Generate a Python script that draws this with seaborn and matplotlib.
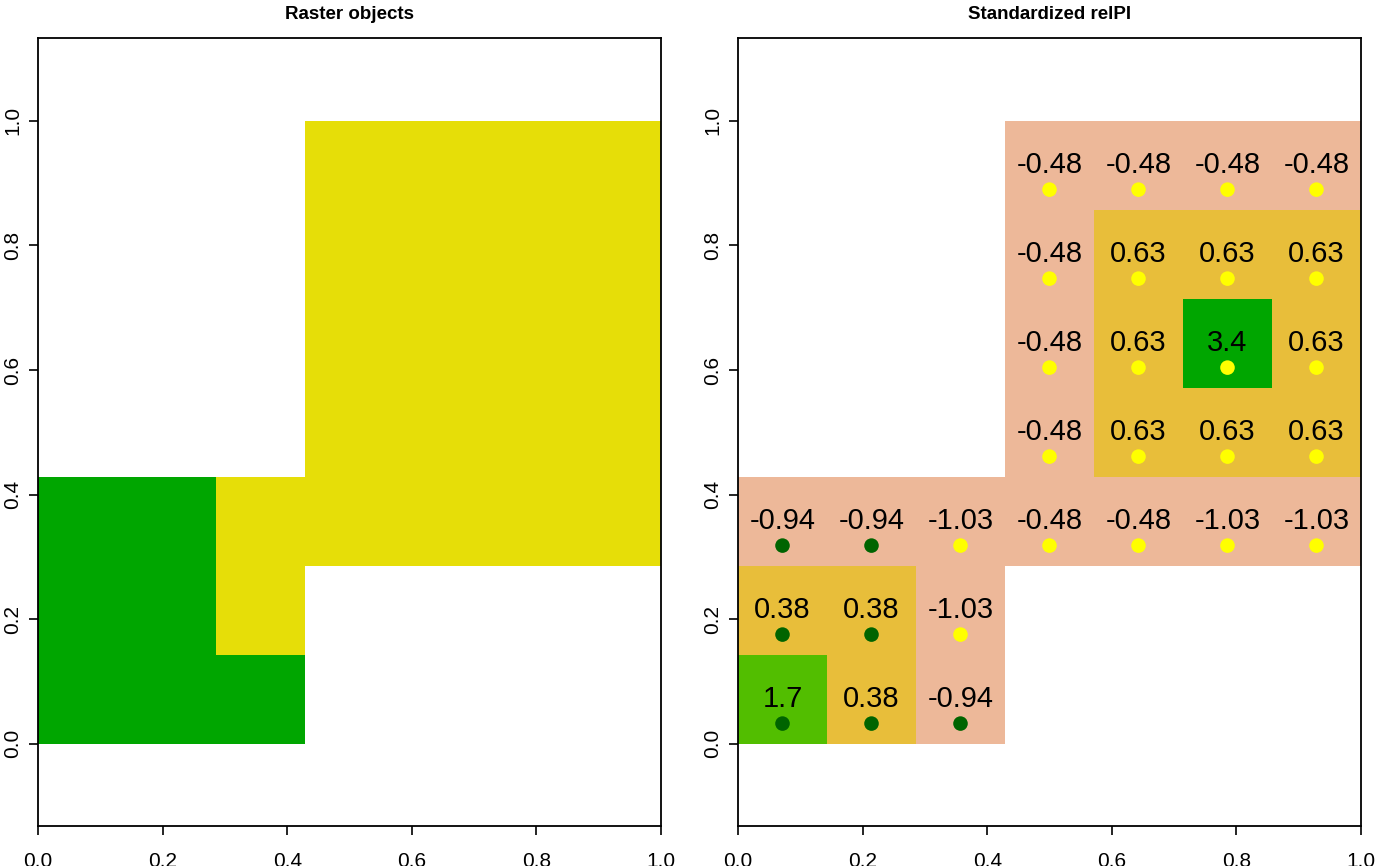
import numpy as np
import pandas as pd
import seaborn as sns
import matplotlib.pyplot as plt
from matplotlib.colors import ListedColormap, BoundaryNorm

nan = np.nan

# raster classes on a 7 x 7 grid, top row first (1 = green, 2 = yellow)
classes = [
    [nan, nan, nan, 2, 2, 2, 2],
    [nan, nan, nan, 2, 2, 2, 2],
    [nan, nan, nan, 2, 2, 2, 2],
    [nan, nan, nan, 2, 2, 2, 2],
    [1, 1, 2, 2, 2, 2, 2],
    [1, 1, 2, nan, nan, nan, nan],
    [1, 1, 1, nan, nan, nan, nan],
]

# standardized relPI per cell, same grid
relpi = [
    [nan, nan, nan, -0.48, -0.48, -0.48, -0.48],
    [nan, nan, nan, -0.48, 0.63, 0.63, 0.63],
    [nan, nan, nan, -0.48, 0.63, 3.4, 0.63],
    [nan, nan, nan, -0.48, 0.63, 0.63, 0.63],
    [-0.94, -0.94, -1.03, -0.48, -0.48, -1.03, -1.03],
    [0.38, 0.38, -1.03, nan, nan, nan, nan],
    [1.7, 0.38, -0.94, nan, nan, nan, nan],
]

class_colors = ["#00A600", "#E6DE08"]
relpi_breaks = [-2, 0, 1, 2, 5]
relpi_colors = ["#EDB899", "#E8BE3A", "#52BE00", "#00A600"]
dot_colors = {1: "#006400", 2: "#FFFF00"}
ticks = [0.0, 0.2, 0.4, 0.6, 0.8, 1.0]
tick_labels = ["0.0", "0.2", "0.4", "0.6", "0.8", "1.0"]

sns.set_style("white")
plt.rcParams["font.family"] = ["Liberation Sans", "DejaVu Sans"]
plt.rcParams["text.color"] = "black"

cls = np.array(classes, dtype=float)[::-1]
val = np.array(relpi, dtype=float)[::-1]
n = cls.shape[0]
edges = np.linspace(0, 1, n + 1)
centers = (edges[:-1] + edges[1:]) / 2

fig = plt.figure(figsize=(14, 8.66), dpi=100)
ax1 = fig.add_axes([38 / 1400, 40 / 866, 623 / 1400, 788 / 866])
ax2 = fig.add_axes([738 / 1400, 40 / 866, 623 / 1400, 788 / 866])

ax1.pcolormesh(edges, edges, np.ma.masked_invalid(cls),
               cmap=ListedColormap(class_colors), vmin=0.5, vmax=2.5)
ax2.pcolormesh(edges, edges, np.ma.masked_invalid(val),
               cmap=ListedColormap(relpi_colors),
               norm=BoundaryNorm(relpi_breaks, len(relpi_colors)))

# points and labels for each cell
rows = []
for i in range(n):
    for j in range(n):
        if not np.isnan(val[i, j]):
            rows.append({"x": centers[j], "y": centers[i],
                         "value": val[i, j], "cls": int(cls[i, j])})
pts = pd.DataFrame(rows)
sns.scatterplot(data=pts, x="x", y=pts["y"] - 0.039, hue="cls",
                palette=dot_colors, s=110, linewidth=0, legend=False, ax=ax2)
for _, r in pts.iterrows():
    ax2.text(r["x"], r["y"], str(r["value"]), ha="center", va="center",
             fontsize=21, color="black")

for ax, title in [(ax1, "Raster objects"), (ax2, "Standardized relPI")]:
    ax.set_xlim(0, 1)
    ax.set_ylim(-0.132, 1.133)
    ax.set_xticks(ticks, tick_labels)
    ax.set_yticks(ticks, tick_labels)
    ax.set_xlabel("")
    ax.set_ylabel("")
    ax.tick_params(axis="both", direction="out", length=6.5, width=1.2,
                   colors="black", labelsize=15, left=True, bottom=True)
    ax.tick_params(axis="x", pad=12)
    ax.tick_params(axis="y", pad=5, labelrotation=90)
    for lab in ax.get_yticklabels():
        lab.set_va("center")
    for sp in ax.spines.values():
        sp.set_visible(True)
        sp.set_color("black")
        sp.set_linewidth(1.3)
    ax.set_title(title, fontsize=13.5, fontweight="bold", pad=14,
                 color="black")

fig.savefig("out.png", dpi=100)
